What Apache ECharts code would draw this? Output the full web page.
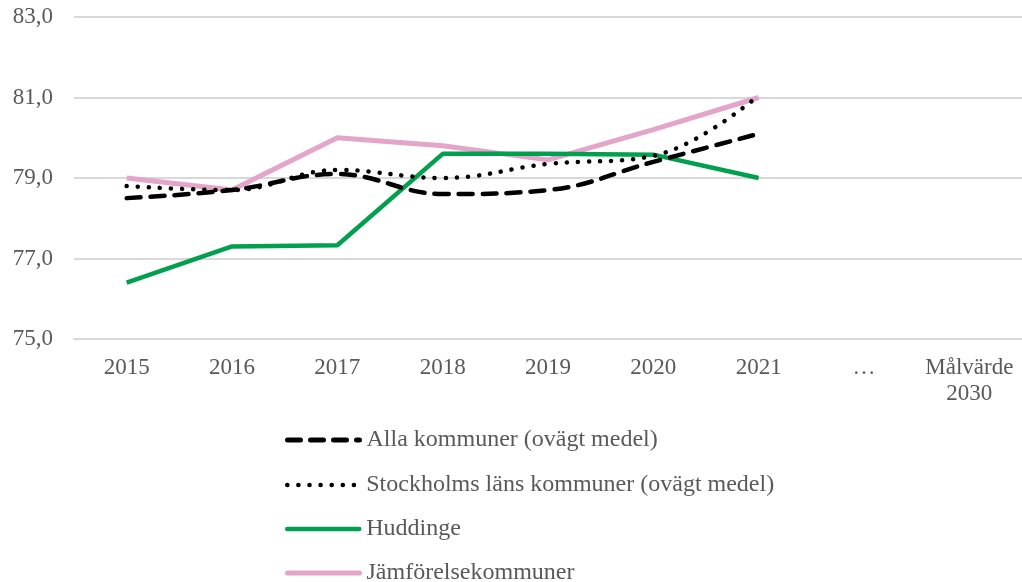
<!DOCTYPE html>
<html>
<head>
    <meta charset="UTF-8">
    <title>Huddinge</title>
    <style>
        html, body { margin: 0; padding: 0; background: #fff; }
        #chart { width: 1022px; height: 582px; }
    </style>
</head>
<body>
    <div id="chart"></div>
    <script src="https://cdn.jsdelivr.net/npm/echarts@6/dist/echarts.min.js"></script>
    <script>
        var years = ['2015', '2016', '2017', '2018', '2019', '2020', '2021', '…', 'Målvärde\n2030'];
        var allaKommuner = [78.5, 78.7, 79.1, 78.6, 78.7, 79.4, 80.1];
        var stockholmsLan = [78.8, 78.7, 79.2, 79.0, 79.35, 79.55, 81.05];
        var huddinge = [76.4, 77.3, 77.33, 79.6, 79.6, 79.58, 79.0];
        var jamforelse = [79.0, 78.7, 80.0, 79.8, 79.45, 80.2, 81.0];

        var font = 'Liberation Serif';
        var grey = '#595959';
        var green = '#00A04F';
        var pink = '#E3A5CA';

        // en legend per rad, så att raderna hamnar som i originalet
        function legendRow(name, top, lineStyle) {
            return {
                orient: 'vertical',
                left: 285,
                top: top,
                itemWidth: 72,
                itemHeight: 24,
                padding: 0,
                itemStyle: { color: 'rgba(0,0,0,0)', borderWidth: 0, opacity: 0 },
                lineStyle: lineStyle,
                textStyle: { fontFamily: font, fontSize: 24, color: grey, padding: [0, 0, 0, 2] },
                data: [name]
            };
        }

        var option = {
            animation: false,
            textStyle: { fontFamily: font },
            grid: { left: 74, right: 0, top: 17, bottom: 243 },
            legend: [
                legendRow('Alla kommuner (ovägt medel)', 428, { color: '#000', width: 5, type: [13, 10], cap: 'round' }),
                legendRow('Stockholms läns kommuner (ovägt medel)', 473, { color: '#000', width: 4.5, type: [0.1, 11], cap: 'round' }),
                legendRow('Huddinge', 517, { color: green, width: 4.5, type: 'solid', cap: 'round' }),
                legendRow('Jämförelsekommuner', 561, { color: pink, width: 5, type: 'solid', cap: 'round' })
            ],
            xAxis: {
                type: 'category',
                data: years,
                boundaryGap: true,
                axisLine: { lineStyle: { color: '#d9d9d9', width: 2 } },
                axisTick: { show: false },
                axisLabel: { fontFamily: font, fontSize: 23, color: grey, margin: 16, lineHeight: 26, interval: 0 }
            },
            yAxis: {
                type: 'value',
                min: 75,
                max: 83,
                interval: 2,
                axisLine: { show: false },
                axisTick: { show: false },
                splitLine: { lineStyle: { color: '#d9d9d9', width: 2 } },
                axisLabel: {
                    fontFamily: font, fontSize: 23, color: grey, margin: 21,
                    formatter: function (v) { return v.toFixed(1).replace('.', ','); }
                }
            },
            series: [
                {
                    name: 'Alla kommuner (ovägt medel)',
                    type: 'line',
                    data: allaKommuner,
                    symbol: 'none',
                    smooth: 0.4,
                    z: 3,
                    lineStyle: { color: '#000', width: 4.5, type: [14, 10], cap: 'round' },
                    itemStyle: { color: '#000' }
                },
                {
                    name: 'Stockholms läns kommuner (ovägt medel)',
                    type: 'line',
                    data: stockholmsLan,
                    symbol: 'none',
                    smooth: 0.4,
                    z: 4,
                    lineStyle: { color: '#000', width: 4.5, type: [0.1, 11], cap: 'round' },
                    itemStyle: { color: '#000' }
                },
                {
                    name: 'Huddinge',
                    type: 'line',
                    data: huddinge,
                    symbol: 'none',
                    z: 2,
                    lineStyle: { color: green, width: 4.5 },
                    itemStyle: { color: green }
                },
                {
                    name: 'Jämförelsekommuner',
                    type: 'line',
                    data: jamforelse,
                    symbol: 'none',
                    z: 1,
                    lineStyle: { color: pink, width: 5 },
                    itemStyle: { color: pink }
                }
            ]
        };

        var myChart = echarts.init(document.getElementById('chart'));
        myChart.setOption(option);
    </script>
</body>
</html>
